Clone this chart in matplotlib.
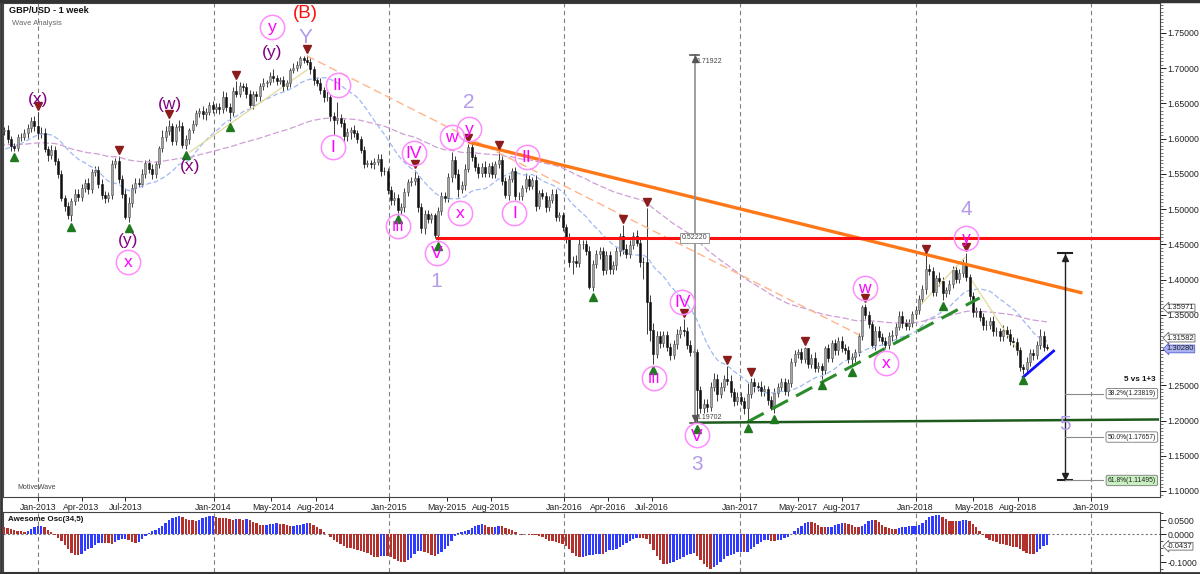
import numpy as np
import pandas as pd
import matplotlib
matplotlib.use("Agg")
import matplotlib.pyplot as plt
import matplotlib.dates as mdates
from matplotlib.ticker import MultipleLocator, FixedLocator, FuncFormatter
from matplotlib.transforms import blended_transform_factory

plt.rcParams['font.family'] = ['Liberation Sans', 'DejaVu Sans']

# ---------------- DATA (weekly GBP/USD, week starting Monday) ----------------
first_date = '2011-10-24'
first_open = 1.6000

# Oct-2011 .. Dec-2012 (63 weeks)
close_a = [1.6070, 1.5990, 1.5940, 1.5790, 1.5480, 1.5700, 1.5670, 1.5530, 1.5640, 1.5540,
           1.5335, 1.5320, 1.5580, 1.5715, 1.5810,
           1.5735, 1.5785, 1.5880, 1.5775,
           1.5655, 1.5720, 1.5890, 1.5985,
           1.5870, 1.5905, 1.6125, 1.6245, 1.6180,
           1.6100, 1.5810, 1.5660, 1.5345,
           1.5500, 1.5715, 1.5575, 1.5695,
           1.5505, 1.5575, 1.5600, 1.5710, 1.5630,
           1.5700, 1.5745, 1.5840, 1.5890,
           1.5995, 1.6235, 1.6225, 1.6150,
           1.6130, 1.6050, 1.6115, 1.6130, 1.5995,
           1.5895, 1.5870, 1.6025, 1.6030,
           1.6085, 1.6150, 1.6245, 1.6175, 1.6075]
wick_up_a = [60, 70, 80, 60, 90, 70, 80, 70, 60, 50,
             40, 60, 50, 70, 60,
             90, 60, 50, 70,
             80, 60, 70, 40,
             120, 50, 60, 60, 80,
             70, 60, 80, 50,
             80, 60, 100, 50,
             60, 70, 50, 60, 100,
             60, 50, 50, 40,
             40, 70, 55, 60,
             50, 40, 70, 35, 60,
             40, 45, 35, 50,
             55, 60, 60, 70, 205]
wick_dn_a = [60, 80, 70, 60, 70, 60, 50, 60, 70, 60,
             70, 90, 60, 50, 60,
             50, 60, 60, 70,
             60, 80, 60, 60,
             70, 60, 50, 60, 50,
             70, 60, 60, 80,
             60, 70, 60, 60,
             70, 60, 50, 50, 60,
             60, 50, 60, 50,
             50, 60, 70, 40,
             60, 100, 90, 60, 50,
             70, 42, 40, 60,
             50, 70, 50, 60, 80]

close_2013 = [1.6085, 1.5860, 1.5765, 1.5845,
              1.5690, 1.5495, 1.5160, 1.5040,
              1.4920, 1.5115, 1.5220, 1.5175,
              1.5305, 1.5365, 1.5285, 1.5525, 1.5555,
              1.5360, 1.5200, 1.5155, 1.5200,
              1.5640, 1.5690, 1.5425, 1.5215,
              1.4885, 1.5090, 1.5300, 1.5375, 1.5360,
              1.5505, 1.5655, 1.5575, 1.5500,
              1.5640, 1.5870, 1.6030, 1.6105, 1.6180,
              1.5965, 1.6165, 1.6175, 1.5910,
              1.5990, 1.6125, 1.6215, 1.6365,
              1.6390, 1.6345, 1.6380, 1.6475, 1.6425]
wick_up_2013 = [80, 60, 40, 60, 50, 40, 60, 40, 60, 40, 60, 70,
                50, 60, 70, 40, 60, 60, 70, 60, 40, 60, 30, 60, 60,
                90, 80, 60, 60, 70, 60, 40, 60, 60, 50, 30, 90, 70, 80,
                40, 50, 90, 60, 60, 30, 50, 40, 50, 80, 60, 50, 60]
wick_dn_2013 = [60, 50, 80, 50, 60, 50, 40, 70, 60, 89, 60, 60,
                60, 60, 70, 60, 50, 60, 50, 70, 60, 60, 60, 50, 60,
                25, 71, 60, 70, 50, 50, 60, 60, 70, 60, 50, 60, 60, 50,
                50, 60, 60, 40, 55, 60, 50, 40, 60, 60, 80, 50, 60]

close_2014 = [1.6450, 1.6425, 1.6590, 1.6445,
              1.6375, 1.6670, 1.6640, 1.6750,
              1.6730, 1.6635, 1.6485, 1.6630, 1.6600,
              1.6745, 1.6795, 1.6810, 1.6885,
              1.6860, 1.6820, 1.6830, 1.6750,
              1.6790, 1.6970, 1.7010, 1.7040, 1.7150,
              1.7110, 1.7090, 1.6985, 1.6830,
              1.6795, 1.6690, 1.6590, 1.6590,
              1.6315, 1.6270, 1.6300, 1.6225, 1.6040,
              1.6090, 1.6120, 1.6080, 1.5995,
              1.5840, 1.5645, 1.5650, 1.5640,
              1.5670, 1.5715, 1.5545, 1.5540, 1.5275]
wick_up_2014 = [50, 60, 80, 70, 60, 60, 153, 60, 40, 60, 50, 40, 50,
                50, 60, 30, 60, 110, 40, 50, 60, 50, 40, 60, 60, 25,
                20, 82, 50, 40, 50, 60, 50, 80, 40, 60, 225, 50, 50,
                60, 40, 70, 50, 40, 50, 50, 50, 60, 70, 70, 50, 40]
wick_dn_2014 = [60, 70, 60, 50, 125, 60, 50, 50, 50, 60, 70, 60, 60,
                60, 50, 60, 50, 60, 60, 50, 80, 60, 50, 40, 50, 40,
                40, 50, 60, 70, 50, 60, 70, 50, 60, 218, 60, 60, 90,
                70, 90, 50, 60, 50, 60, 50, 60, 70, 40, 70, 60, 60]

close_2015 = [1.5135, 1.5160, 1.4990, 1.5025,
              1.5240, 1.5390, 1.5395, 1.5435,
              1.5025, 1.4730, 1.4925, 1.4865, 1.4910,
              1.4630, 1.4970, 1.5180, 1.5165,
              1.5450, 1.5700, 1.5505, 1.5285,
              1.5345, 1.5575, 1.5880, 1.5745, 1.5595,
              1.5510, 1.5600, 1.5510, 1.5615,
              1.5505, 1.5640, 1.5700, 1.5405, 1.5195,
              1.5430, 1.5535, 1.5185, 1.5185,
              1.5300, 1.5430, 1.5335, 1.5420,
              1.5040, 1.5230, 1.5190, 1.5025, 1.5125,
              1.5220, 1.4895, 1.4910, 1.4745]
wick_up_2015 = [60, 80, 50, 60, 60, 40, 60, 117, 50, 60, 70, 60, 40,
                40, 60, 60, 60, 70, 115, 60, 60, 60, 60, 50, 60, 40,
                60, 50, 80, 40, 60, 50, 119, 50, 50, 60, 50, 70, 60,
                40, 78, 50, 40, 60, 40, 50, 50, 60, 60, 70, 50, 50]
wick_dn_2015 = [70, 80, 38, 60, 60, 50, 60, 50, 60, 70, 80, 60, 60,
                40, 65, 60, 60, 60, 60, 60, 115, 60, 80, 50, 60, 60,
                70, 60, 50, 60, 60, 60, 50, 60, 32, 60, 50, 60, 60,
                50, 60, 60, 50, 60, 40, 50, 60, 50, 40, 60, 60, 60]

close_2016 = [1.4595, 1.4245, 1.4265, 1.4240,
              1.4500, 1.4500, 1.4410, 1.3900, 1.4220,
              1.4365, 1.4400, 1.4130, 1.4345,
              1.4145, 1.4210, 1.4400, 1.4615,
              1.4430, 1.4365, 1.4495, 1.4620, 1.4520,
              1.4255, 1.4250, 1.3680, 1.3280,
              1.2950, 1.3195, 1.3100, 1.3215,
              1.3045, 1.2935, 1.3080, 1.3225, 1.3280,
              1.3265, 1.3070, 1.2975, 1.2975,
              1.2435, 1.2180, 1.2230, 1.2190, 1.2480,
              1.2595, 1.2375, 1.2480, 1.2585,
              1.2560, 1.2400, 1.2280, 1.2340]
wick_up_2016 = [50, 60, 70, 90, 80, 60, 60, 60, 60, 60, 60, 60, 60,
                60, 60, 60, 50, 155, 80, 70, 50, 90, 60, 60, 768, 100,
                100, 80, 80, 60, 60, 50, 60, 80, 60, 165, 60, 80, 60,
                40, 60, 70, 80, 60, 80, 60, 70, 60, 190, 80, 60, 60]
wick_dn_2016 = [70, 60, 165, 60, 60, 60, 60, 40, 64, 60, 70, 60, 50,
                60, 60, 70, 60, 60, 60, 60, 60, 50, 70, 235, 451, 158,
                152, 60, 70, 60, 60, 70, 60, 60, 60, 60, 60, 60, 60,
                465, 70, 80, 70, 60, 60, 100, 60, 60, 60, 60, 80, 60]

close_2017 = [1.2280, 1.2180, 1.2375, 1.2550, 1.2485,
              1.2480, 1.2415, 1.2450, 1.2290,
              1.2180, 1.2395, 1.2475, 1.2550,
              1.2415, 1.2535, 1.2830, 1.2950,
              1.2970, 1.2880, 1.3030, 1.2800, 1.2890,
              1.2745, 1.2780, 1.2715, 1.3025,
              1.2890, 1.3100, 1.2995, 1.3135, 1.3035,
              1.3005, 1.2875, 1.2895, 1.2975,
              1.3205, 1.3615, 1.3495, 1.3370,
              1.3065, 1.3275, 1.3190, 1.3130, 1.3075,
              1.3195, 1.3210, 1.3330, 1.3490,
              1.3380, 1.3340, 1.3385, 1.3510]
wick_up_2017 = [70, 60, 156, 50, 60, 60, 80, 60, 40, 60, 60, 60, 50,
                60, 60, 60, 50, 50, 60, 18, 5, 60, 80, 50, 40, 30,
                60, 40, 60, 50, 60, 50, 50, 60, 40, 40, 20, 42, 60,
                40, 60, 70, 50, 60, 60, 70, 50, 60, 60, 60, 60, 40]
wick_dn_2017 = [60, 90, 194, 60, 80, 60, 60, 60, 70, 30, 71, 60, 60,
                50, 60, 60, 60, 60, 60, 60, 60, 50, 50, 60, 126, 60,
                60, 60, 60, 60, 60, 60, 60, 101, 60, 60, 60, 60, 60,
                38, 60, 60, 60, 40, 60, 60, 60, 50, 60, 60, 60, 60]

close_2018 = [1.3570, 1.3725, 1.3860, 1.4155, 1.4125,
              1.3825, 1.4020, 1.3975, 1.3815,
              1.3850, 1.3935, 1.4140, 1.4015,
              1.4090, 1.4235, 1.4035, 1.3770, 1.3535,
              1.3550, 1.3470, 1.3350, 1.3360,
              1.3410, 1.3265, 1.3265, 1.3195,
              1.3280, 1.3235, 1.3130, 1.3110, 1.2995,
              1.2760, 1.2730, 1.2835, 1.2960,
              1.2925, 1.3070, 1.3195, 1.3050,
              1.3028]
wick_up_2018 = [60, 50, 70, 190, 60, 60, 50, 90, 60, 50, 60, 60, 60,
                60, 60, 141, 50, 60, 60, 50, 60, 60, 60, 80, 60, 50,
                80, 60, 60, 50, 60, 50, 40, 60, 60, 60, 60, 103, 80, 30]
wick_dn_2018 = [70, 60, 50, 60, 60, 60, 60, 60, 103, 60, 60, 60, 60,
                60, 50, 60, 60, 60, 60, 60, 60, 60, 60, 60, 60, 60,
                60, 60, 60, 60, 60, 60, 68, 60, 60, 60, 50, 60, 60, 30]

# swing markers (weeks)
swing_high_weeks = ['2012-12-31', '2013-06-17', '2013-09-30', '2014-02-17', '2014-07-14',
                    '2015-02-23', '2015-06-15', '2015-08-17', '2016-05-02', '2016-06-20',
                    '2016-09-05', '2016-12-05', '2017-01-23', '2017-05-15', '2017-09-18',
                    '2018-01-22', '2018-04-16']
swing_low_weeks = ['2012-11-12', '2013-03-11', '2013-07-08', '2013-11-04', '2014-02-03',
                   '2015-01-19', '2015-04-13', '2016-02-29', '2016-07-04', '2016-10-03',
                   '2017-01-16', '2017-03-13', '2017-06-19', '2017-08-21', '2018-02-26',
                   '2018-08-13']

# wave labels (date, price, text)
paren_labels = [('2013-01-01', 1.655, '(x)'), ('2013-07-07', 1.456, '(y)'),
                ('2013-10-02', 1.648, '(w)'), ('2013-11-12', 1.560, '(x)'),
                ('2014-05-02', 1.723, '(y)')]
circle_labels = [('2013-07-07', 1.425, 'x'), ('2014-05-02', 1.7585, 'y'),
                 ('2014-09-16', 1.676, 'II'), ('2014-09-06', 1.588, 'I'),
                 ('2015-01-19', 1.476, 'III'), ('2015-02-21', 1.580, 'IV'),
                 ('2015-04-10', 1.438, 'V'), ('2015-05-11', 1.602, 'w'),
                 ('2015-06-16', 1.614, 'y'), ('2015-05-28', 1.4945, 'x'),
                 ('2015-10-14', 1.574, 'II'), ('2015-09-19', 1.4945, 'I'),
                 ('2016-09-02', 1.368, 'IV'), ('2016-07-05', 1.260, 'III'),
                 ('2016-10-03', 1.179, 'V'), ('2017-09-17', 1.388, 'w'),
                 ('2017-11-01', 1.282, 'x'), ('2018-04-16', 1.459, 'y')]
big_labels = [('2014-07-11', 1.743, 'Y'), ('2015-04-10', 1.397, '1'),
              ('2015-06-16', 1.652, '2'), ('2016-10-03', 1.137, '3'),
              ('2018-04-16', 1.499, '4'), ('2018-11-08', 1.194, '5')]

# drawn lines (date, price) pairs
orange_line = [('2015-06-16', 1.595), ('2018-12-14', 1.381)]
red_level = 1.4595
red_start = '2015-04-10'
green_dash = [('2017-01-16', 1.198), ('2018-05-14', 1.374)]
dkgreen_line = [('2016-10-03', 1.1970), ('2019-05-20', 1.2015)]
blue_line = [('2018-08-13', 1.2618), ('2018-10-15', 1.2987)]
peach_line = [('2014-07-14', 1.7175), ('2017-09-06', 1.3214)]
tan_lines = [[('2013-11-12', 1.581), ('2014-07-14', 1.6975)],
             [('2018-01-07', 1.361), ('2018-04-14', 1.432)],
             [('2018-04-23', 1.4037), ('2018-08-05', 1.2958)]]

measure_date = '2016-09-28'
measure_hi, measure_lo = 1.71922, 1.19702
fib_date = '2018-11-08'
fib_top, fib_bottom = 1.4376, 1.11495
fib_levels = [1.23819, 1.17657, 1.11495]
fib_texts = ['38.2%(1.23819)', '50.0%(1.17657)', '61.8%(1.11495)']

tag_values = [1.35971, 1.31582, 1.30280]
tag_texts = ['1.35971', '1.31582', '1.30280']
ao_tag_value, ao_tag_text = -0.0437, '-0.0437'

xtick_dates = ['2013-01-01', '2013-04-01', '2013-07-01', '2014-01-01', '2014-05-01', '2014-08-01',
               '2015-01-01', '2015-05-01', '2015-08-01', '2016-01-01', '2016-04-01', '2016-07-01',
               '2017-01-01', '2017-05-01', '2017-08-01', '2018-01-01', '2018-05-01', '2018-08-01',
               '2019-01-01']
xtick_labels = ['Jan-2013', 'Apr-2013', 'Jul-2013', 'Jan-2014', 'May-2014', 'Aug-2014',
                'Jan-2015', 'May-2015', 'Aug-2015', 'Jan-2016', 'Apr-2016', 'Jul-2016',
                'Jan-2017', 'May-2017', 'Aug-2017', 'Jan-2018', 'May-2018', 'Aug-2018',
                'Jan-2019']
year_lines = ['2013-01-01', '2014-01-01', '2015-01-01', '2016-01-01', '2017-01-01',
              '2018-01-01', '2019-01-01']

# ---------------- build series ----------------
close = np.array(close_a + close_2013 + close_2014 + close_2015 + close_2016 + close_2017 + close_2018)
wup = np.array(wick_up_a + wick_up_2013 + wick_up_2014 + wick_up_2015 + wick_up_2016 + wick_up_2017 + wick_up_2018) * 1e-4
wdn = np.array(wick_dn_a + wick_dn_2013 + wick_dn_2014 + wick_dn_2015 + wick_dn_2016 + wick_dn_2017 + wick_dn_2018) * 1e-4
n = min(len(close), len(wup), len(wdn))
close, wup, wdn = close[:n], wup[:n], wdn[:n]
dates = pd.date_range(first_date, periods=n, freq='W-MON')
opn = np.r_[first_open, close[:-1]]
high = np.maximum(opn, close) + wup
low = np.minimum(opn, close) - wdn
xs = mdates.date2num(dates.to_pydatetime())
week_idx = {d.strftime('%Y-%m-%d'): i for i, d in enumerate(dates)}

ma_blue = pd.Series(close).rolling(21).mean().values
ma_purple = pd.Series(close).ewm(span=100, adjust=False).mean().values
med = pd.Series((high + low) / 2)
ao = (med.rolling(5).mean() - med.rolling(34).mean()).values


def D(s):
    return mdates.date2num(pd.Timestamp(s).to_pydatetime())


# ---------------- figure ----------------
W, H = 1200, 574
fig = plt.figure(figsize=(12, 5.74), dpi=100, facecolor='white')


def rect(x0, y0, x1, y1):
    return [x0 / W, 1 - y1 / H, (x1 - x0) / W, (y1 - y0) / H]


ax = fig.add_axes(rect(3, 3, 1160, 497))
ax2 = fig.add_axes(rect(3, 512, 1160, 572))

anchor = D('2018-01-01')
dpp = 365.25 / 175.5
xl = anchor - (915.7 - 3) * dpp
xr = anchor + (1160 - 915.7) * dpp
y_top = 1.75 + (33 - 3) / 704.6
y_bot = 1.75 - (497 - 33) / 704.6

for a in (ax, ax2):
    a.set_xlim(xl, xr)
    for s in a.spines.values():
        s.set_color('#444')
        s.set_linewidth(0.8)
    for yl in year_lines:
        a.axvline(D(yl), color='#808080', lw=0.8, ls=(0, (4, 3)), zorder=1)
ax.set_ylim(y_bot, y_top)

# candles
upm = close >= opn
ax.vlines(xs, low, high, color='#3a3a3a', lw=0.7, zorder=2)
bh = np.maximum(np.abs(close - opn), 0.0006)
bb = np.minimum(close, opn)
ax.bar(xs[upm], bh[upm], bottom=bb[upm], width=4.2, color='#a5a5a5', edgecolor='#555555',
       linewidth=0.4, zorder=3)
ax.bar(xs[~upm], bh[~upm], bottom=bb[~upm], width=4.2, color='#111111', edgecolor='#111111',
       linewidth=0.4, zorder=3)

# moving averages
ax.plot(xs, ma_blue, color='#9fb9f2', lw=0.9, dashes=(4, 2), zorder=2.5)
ax.plot(xs, ma_purple, color='#cf9fd6', lw=0.9, dashes=(5, 2), zorder=2.5)

# trend / analysis lines
def pl(pts, **kw):
    ax.plot([D(p[0]) for p in pts], [p[1] for p in pts], **kw)

pl(peach_line, color='#ffb58c', lw=1.0, dashes=(6, 3), zorder=2.6)
for tl in tan_lines:
    pl(tl, color='#e3d99a', lw=0.9, zorder=2.6)
pl(orange_line, color='#ff7818', lw=2.4, zorder=4, solid_capstyle='butt')
ax.plot([D(red_start), xr], [red_level, red_level], color='#ff1010', lw=2.2, zorder=4)
pl(green_dash, color='#2a8c2a', lw=2.2, dashes=(6, 3), zorder=4)
pl(dkgreen_line, color='#1d5a1d', lw=1.8, zorder=4)
pl(blue_line, color='#1010ff', lw=2.0, zorder=4)

# swing triangles
for w in swing_high_weeks:
    i = week_idx[w]
    ax.plot(xs[i], high[i] + 0.0085, marker='v', ms=6, color='#8b1c1c', zorder=5)
for w in swing_low_weeks:
    i = week_idx[w]
    ax.plot(xs[i], low[i] - 0.0085, marker='^', ms=6, color='#1f7a1f', zorder=5)

# wave labels
for d, p, t in paren_labels:
    ax.text(D(d), p, t, color='#800080', fontsize=12.5, ha='center', va='center', zorder=6)
ax.text(D('2014-07-11'), 1.777, '(B)', color='#ff1010', fontsize=13.5, ha='center', va='center', zorder=6)
for d, p, t in circle_labels:
    ax.plot(D(d), p, 'o', ms=17.5, mfc='none', mec='#ff8cff', mew=1.1, zorder=6)
    ax.text(D(d), p - 0.001, t, color='#ff00ff', fontsize=12.5 if len(t) < 3 else 11,
            ha='center', va='center', zorder=7)
for d, p, t in big_labels:
    ax.text(D(d), p, t, color='#b49ae9', fontsize=15, ha='center', va='center', zorder=6)

# measure tool
md = D(measure_date)
ax.plot([md, md], [measure_lo, measure_hi], color='#8f8f8f', lw=1.2, zorder=4)
ax.plot([md - 9, md + 9], [measure_hi, measure_hi], color='#555', lw=1.2, zorder=4)
ax.plot([md - 9, md + 9], [measure_lo, measure_lo], color='#555', lw=1.2, zorder=4)
ax.plot(md, measure_hi - 0.006, marker='^', ms=4, color='#555', zorder=4)
ax.plot(md, measure_lo + 0.006, marker='v', ms=4, color='#555', zorder=4)
ax.text(md + 4, measure_hi - 0.004, '1.71922', fontsize=5, color='#444', ha='left', va='top', zorder=6)
ax.text(md + 4, measure_lo + 0.003, '1.19702', fontsize=5, color='#444', ha='left', va='bottom', zorder=6)
ax.text(md, red_level, '0.52220', fontsize=5, color='#444', ha='center', va='center', zorder=6,
        bbox=dict(boxstyle='square,pad=0.2', fc='white', ec='#888', lw=0.6))

# fib tool
fd = D(fib_date)
ax.plot([fd, fd], [fib_bottom, fib_top], color='#222', lw=1.0, zorder=4)
ax.plot([fd - 14, fd + 14], [fib_top, fib_top], color='#222', lw=1.5, zorder=4)
ax.plot([fd - 14, fd + 14], [fib_bottom, fib_bottom], color='#222', lw=1.5, zorder=4)
ax.plot(fd, fib_top - 0.007, marker='^', ms=4.5, color='#222', zorder=4)
ax.plot(fd, fib_bottom + 0.007, marker='v', ms=4.5, color='#222', zorder=4)
bt = blended_transform_factory(ax.transAxes, ax.transData)
for lv, tx in zip(fib_levels, fib_texts):
    ax.plot([fd, D('2019-01-26')], [lv, lv], color='#8a8a8a', lw=0.8, zorder=4)
    fc = '#c9f0c0' if tx.startswith('61.8') else 'white'
    ax.text(0.9965, lv, tx, transform=bt, fontsize=4.9, ha='right', va='center', color='#222',
            zorder=7, bbox=dict(boxstyle='round,pad=0.25', fc=fc, ec='#777', lw=0.6))
ax.text(0.9965, 1.2589, '5 vs 1+3', transform=bt, fontsize=5.8, fontweight='bold', ha='right',
        va='center', color='#111', zorder=7)

# axes ticks (1.30000 is hidden under the value tags in the reference)
ax.yaxis.tick_right()
ax.yaxis.set_major_locator(MultipleLocator(0.05))
ax.yaxis.set_minor_locator(MultipleLocator(0.005))
ax.yaxis.set_major_formatter(FuncFormatter(lambda v, p: '' if abs(v - 1.30) < 1e-6 else f'{v:.5f}'))
ax.tick_params(axis='y', which='major', length=4, width=0.7, labelsize=6.3, pad=1.5, colors='#222')
ax.tick_params(axis='y', which='minor', length=2, width=0.5, colors='#444')
ax.set_xticks([D(d) for d in xtick_dates])
ax.set_xticklabels(xtick_labels)
ax.tick_params(axis='x', direction='out', length=3, width=0.7, labelsize=6.3, pad=1.5, colors='#222')


# value tags on the price axis (small vertical nudge keeps adjacent tags from overlapping)
def tag(a, y, txt, fc='white', ec='#666'):
    t = blended_transform_factory(a.transAxes, a.transData)
    a.text(1.006, y, txt, transform=t, fontsize=5.5, ha='left', va='center', color='#222',
           zorder=10, clip_on=False,
           bbox=dict(boxstyle='larrow,pad=0.05', fc=fc, ec=ec, lw=0.6))


tag(ax, tag_values[0], tag_texts[0])
tag(ax, tag_values[1] + 0.0012, tag_texts[1])
tag(ax, tag_values[2] - 0.0012, tag_texts[2], fc='#aab2f2', ec='#5560d0')

ax.text(0.0055, 0.993, 'GBP/USD - 1 week', transform=ax.transAxes, fontsize=6.6, fontweight='bold',
        ha='left', va='top', color='#111')
ax.text(0.0075, 0.966, 'Wave Analysis', transform=ax.transAxes, fontsize=5.5, ha='left', va='top',
        color='#666')
ax.text(0.012, 0.012, 'MotiveWave', transform=ax.transAxes, fontsize=5, ha='left', va='bottom',
        color='#444')

# Awesome oscillator
aoc = np.where(np.r_[np.nan, np.diff(ao)] >= 0, '#2f3cff', '#b3302c')
ax2.bar(xs, ao, width=5.0, color=aoc, linewidth=0, zorder=3)
ax2.axhline(0, color='#777', lw=0.8, ls=(0, (2, 2)), zorder=2)
ax2.set_ylim(-(572 - 534) / 280, (534 - 512) / 280)
ax2.yaxis.tick_right()
ax2.yaxis.set_major_locator(FixedLocator([0.05, 0.0, -0.1]))
ax2.yaxis.set_major_formatter(FuncFormatter(lambda v, p: f'{v:.4f}'))
ax2.yaxis.set_minor_locator(MultipleLocator(0.025))
ax2.tick_params(axis='y', which='major', length=4, width=0.7, labelsize=6.3, pad=1.5, colors='#222')
ax2.tick_params(axis='y', which='minor', length=2, width=0.5)
ax2.tick_params(axis='x', length=0, labelbottom=False)
ax2.text(0.004, 0.93, 'Awesome Osc(34,5)', transform=ax2.transAxes, fontsize=5.8, fontweight='bold',
         ha='left', va='top', color='#111')
tag(ax2, ao_tag_value, ao_tag_text)

# outer frame
fig.add_artist(plt.Line2D([0, 1], [1 - 1 / H, 1 - 1 / H], transform=fig.transFigure, color='#333', lw=2.5))
fig.add_artist(plt.Line2D([1 / W, 1 / W], [0, 1], transform=fig.transFigure, color='#333', lw=2))
fig.add_artist(plt.Line2D([0, 1], [1.5 / H, 1.5 / H], transform=fig.transFigure, color='#333', lw=2))

fig.savefig('out.png', dpi=100, facecolor='white')
